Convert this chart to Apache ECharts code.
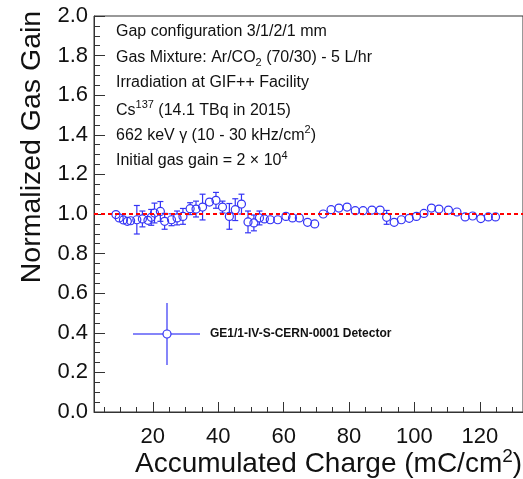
<!DOCTYPE html>
<html><head><meta charset="utf-8">
<script src="https://cdn.jsdelivr.net/npm/echarts@6/dist/echarts.min.js"></script>
<style>html,body{margin:0;padding:0;background:#fff}#c{width:523px;height:479px}</style>
</head><body><div id="c"></div>
<script>
// ---- data ----
const charge = [8.7, 9.7, 11.0, 12.2, 13.2, 15.1, 16.8, 18.5, 19.5, 20.5,
  22.3, 23.6, 25.7, 27.4, 29.2, 31.4, 33.2, 35.2, 37.3, 39.3,
  41.3, 43.4, 45.2, 47.1, 49.1, 50.9, 52.6, 54.1, 55.9, 58.2,
  60.7, 62.7, 64.8, 67.3, 69.5, 72.1, 74.5, 76.9, 79.4, 81.9,
  84.3, 87.0, 89.5, 91.5, 93.8, 96.0, 98.4, 100.6, 102.9, 105.2,
  107.5, 110.4, 113.0, 115.5, 117.8, 120.3, 122.6, 124.8];
const gain = [0.997, 0.980, 0.970, 0.963, 0.966, 0.971, 0.975, 0.968, 0.983, 1.005,
  1.013, 0.963, 0.971, 0.980, 0.988, 1.027, 1.025, 1.035, 1.060, 1.069,
  1.035, 0.988, 1.022, 1.050, 0.960, 0.955, 0.980, 0.975, 0.971, 0.971,
  0.988, 0.980, 0.980, 0.958, 0.950, 1.000, 1.022, 1.030, 1.035, 1.017,
  1.017, 1.020, 1.020, 0.983, 0.958, 0.971, 0.978, 0.988, 1.003, 1.030,
  1.025, 1.020, 1.010, 0.985, 0.990, 0.977, 0.985, 0.985];
const gainErr = [0.010, 0.010, 0.010, 0.010, 0.010, 0.072, 0.040, 0.020, 0.040, 0.050,
  0.050, 0.040, 0.030, 0.035, 0.040, 0.030, 0.040, 0.065, 0.015, 0.040,
  0.030, 0.065, 0.055, 0.050, 0.055, 0.040, 0.035, 0.012, 0.012, 0.012,
  0.012, 0.012, 0.012, 0.010, 0.010, 0.012, 0.012, 0.010, 0.010, 0.010,
  0.010, 0.012, 0.012, 0.035, 0.010, 0.010, 0.010, 0.010, 0.010, 0.012,
  0.012, 0.012, 0.020, 0.010, 0.010, 0.010, 0.010, 0.010];
const refLevel = 1.0;
const xRange = [2, 133.2];
const xMajorTicks = [20, 40, 60, 80, 100, 120];
const xMinorTicks = [5, 10, 15, 20, 25, 30, 35, 40, 45, 50, 55, 60, 65, 70, 75, 80, 85, 90, 95, 100, 105, 110, 115, 120, 125, 130];
const yRange = [0, 2];
const yStep = 0.2;
const annotationLines = [
  'Gap configuration 3/1/2/1 mm',
  'Gas Mixture: Ar/CO{sub|2} (70/30) - 5 L/hr',
  'Irradiation at GIF++ Facility',
  'Cs{sup|137} (14.1 TBq in 2015)',
  '662 keV \u03b3 (10 - 30 kHz/cm{sup|2})',
  'Initial gas gain = 2 \u00d7 10{sup|4}'
];
const legendLabel = 'GE1/1-IV-S-CERN-0001 Detector';
const xTitle = 'Accumulated Charge (mC/cm{sup|2})';
const yTitle = 'Normalized Gas Gain';

// ---- styling ----
const FONT = '"Liberation Sans", Arial, Helvetica, sans-serif';
const BLUE = '#3434f5';
const AXIS = '#333333';
const TXT = '#111111';

const chart = echarts.init(document.getElementById('c'), null, {renderer: 'canvas'});

const richBase = (size) => ({
  n: {fontSize: size, fontFamily: FONT, fill: TXT, lineHeight: size + 6},
  sup: {fontSize: Math.round(size * 0.68), fontFamily: FONT, fill: TXT, lineHeight: Math.round(size * 0.68), verticalAlign: 'top'},
  sub: {fontSize: Math.round(size * 0.68), fontFamily: FONT, fill: TXT, lineHeight: Math.round(size * 0.68), verticalAlign: 'bottom'}
});
function richify(s) {
  const parts = [];
  const re = /\{(sup|sub)\|([^}]*)\}/g;
  let last = 0, m;
  while ((m = re.exec(s)) !== null) {
    if (m.index > last) parts.push('{n|' + s.slice(last, m.index) + '}');
    parts.push('{' + m[1] + '|' + m[2] + '}');
    last = re.lastIndex;
  }
  if (last < s.length) parts.push('{n|' + s.slice(last) + '}');
  return parts.join('');
}

const annY0 = 35, annDy = 25.2;
const graphics = annotationLines.map((t, i) => ({
  type: 'text', left: 116, top: annY0 + i * annDy - 11,
  style: {text: richify(t), rich: richBase(16), fontSize: 16, fontFamily: FONT, fill: TXT}
}));
graphics.push({
  type: 'text', x: 32, y: 147, rotation: Math.PI / 2,
  style: {text: yTitle, fontSize: 28.5, fontFamily: FONT, fill: TXT, align: 'center', verticalAlign: 'middle'}
});
graphics.push({
  type: 'text', left: 135, top: 447,
  style: {text: richify(xTitle), rich: richBase(28), fontSize: 28, fontFamily: FONT, fill: TXT}
});
// legend entry
graphics.push({
  type: 'group', children: [
    {type: 'line', shape: {x1: 133, y1: 334, x2: 163, y2: 334}, style: {stroke: BLUE, lineWidth: 1.2}},
    {type: 'line', shape: {x1: 171, y1: 334, x2: 200, y2: 334}, style: {stroke: BLUE, lineWidth: 1.2}},
    {type: 'line', shape: {x1: 167, y1: 303, x2: 167, y2: 330}, style: {stroke: BLUE, lineWidth: 1.2}},
    {type: 'line', shape: {x1: 167, y1: 338, x2: 167, y2: 365}, style: {stroke: BLUE, lineWidth: 1.2}},
    {type: 'circle', shape: {cx: 167, cy: 334, r: 4}, style: {stroke: BLUE, fill: 'none', lineWidth: 1.2}},
    {type: 'text', x: 210, y: 334, style: {text: legendLabel, fontSize: 12, fontWeight: 'bold', fontFamily: FONT, fill: TXT, verticalAlign: 'middle'}}
  ]
});

const points = charge.map((x, i) => [x, gain[i], gainErr[i]]);

chart.setOption({
  animation: false,
  backgroundColor: '#ffffff',
  grid: {left: 94, top: 16, right: -4, bottom: 67, show: true, borderColor: AXIS, borderWidth: 1, backgroundColor: 'transparent'},
  xAxis: [{
    type: 'value', min: xRange[0], max: xRange[1], position: 'bottom',
    axisLine: {show: true, lineStyle: {color: AXIS, width: 1}},
    axisTick: {show: true, inside: true, length: 10, customValues: xMajorTicks, lineStyle: {color: AXIS}},
    axisLabel: {show: true, customValues: xMajorTicks, margin: 14, fontSize: 22, fontFamily: FONT, color: TXT},
    splitLine: {show: false}
  }, {
    type: 'value', min: xRange[0], max: xRange[1], position: 'bottom',
    axisLine: {show: false},
    axisTick: {show: true, inside: true, length: 5, customValues: xMinorTicks, lineStyle: {color: AXIS}},
    axisLabel: {show: false},
    splitLine: {show: false}
  }],
  yAxis: {
    type: 'value', min: yRange[0], max: yRange[1], interval: yStep,
    axisLine: {show: true, lineStyle: {color: AXIS, width: 1}},
    axisTick: {show: true, inside: true, length: 11, lineStyle: {color: AXIS}},
    minorTick: {show: true, splitNumber: 4, length: 6, lineStyle: {color: AXIS}},
    axisLabel: {margin: 6, fontSize: 22, fontFamily: FONT, color: TXT, formatter: v => v.toFixed(1)},
    splitLine: {show: false}
  },
  graphic: graphics,
  series: [{
    type: 'custom', xAxisIndex: 0, yAxisIndex: 0, z: 3,
    data: points,
    encode: {x: 0, y: 1},
    renderItem: function (params, api) {
      const x = api.value(0), y = api.value(1), e = api.value(2);
      const c = api.coord([x, y]);
      const t = api.coord([x, y + e]);
      const b = api.coord([x, y - e]);
      const r = 4, cap = 3;
      const st = {stroke: BLUE, lineWidth: 1.2, fill: 'none'};
      const ch = [];
      if (c[1] - t[1] > r) {
        ch.push({type: 'line', shape: {x1: c[0], y1: t[1], x2: c[0], y2: c[1] - r}, style: st});
        ch.push({type: 'line', shape: {x1: c[0] - cap, y1: t[1], x2: c[0] + cap, y2: t[1]}, style: st});
      }
      if (b[1] - c[1] > r) {
        ch.push({type: 'line', shape: {x1: c[0], y1: c[1] + r, x2: c[0], y2: b[1]}, style: st});
        ch.push({type: 'line', shape: {x1: c[0] - cap, y1: b[1], x2: c[0] + cap, y2: b[1]}, style: st});
      }
      ch.push({type: 'circle', shape: {cx: c[0], cy: c[1], r: r}, style: st});
      return {type: 'group', children: ch};
    }
  }, {
    type: 'line', xAxisIndex: 0, yAxisIndex: 0, z: 5,
    data: [[xRange[0], refLevel], [xRange[1], refLevel]],
    symbol: 'none', silent: true,
    lineStyle: {color: '#ff0000', width: 2, type: [4, 3]}
  }]
});
</script>
</body></html>
